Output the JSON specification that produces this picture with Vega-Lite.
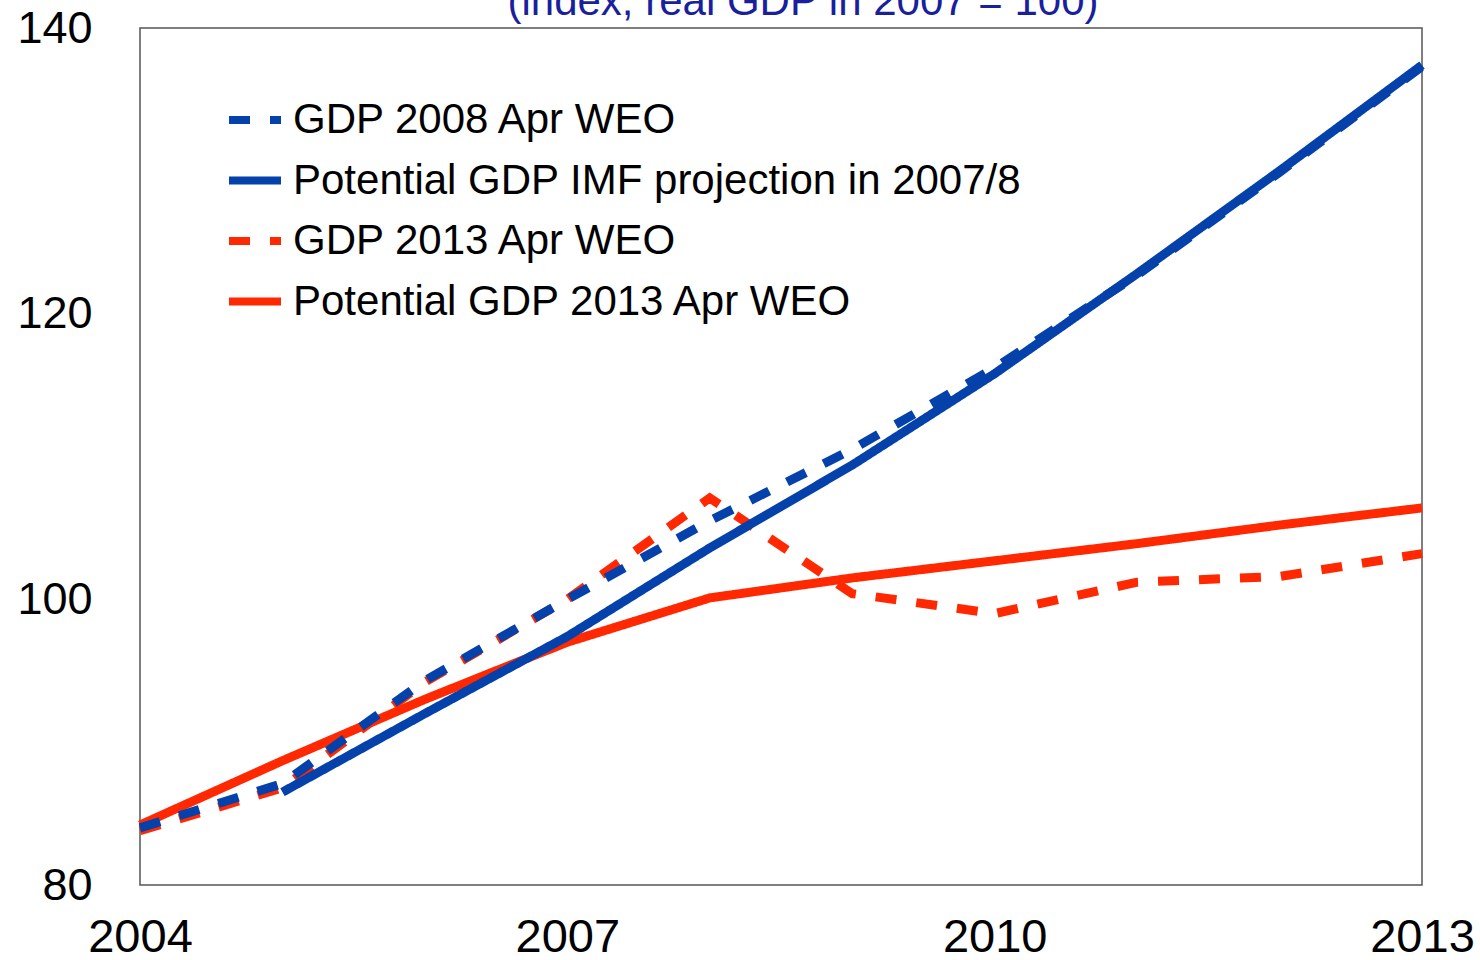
{
  "$schema": "https://vega.github.io/schema/vega-lite/v6.json",
  "width": 1282,
  "height": 857,
  "autosize": {"type": "none"},
  "padding": {"left": 140, "top": 28, "right": 58, "bottom": 75},
  "background": "white",
  "title": {
    "text": "(index, real GDP in 2007 = 100)",
    "font": "Liberation Sans",
    "fontSize": 42,
    "fontWeight": "normal",
    "color": "#1a1f9c",
    "baseline": "alphabetic",
    "offset": 0,
    "dx": 22,
    "dy": 51
  },
  "data": {
    "values": [
      {"series": "Potential GDP 2013 Apr WEO", "year": 2004, "value": 84.2},
      {"series": "Potential GDP 2013 Apr WEO", "year": 2005, "value": 88.7},
      {"series": "Potential GDP 2013 Apr WEO", "year": 2006, "value": 93.0},
      {"series": "Potential GDP 2013 Apr WEO", "year": 2007, "value": 97.0},
      {"series": "Potential GDP 2013 Apr WEO", "year": 2008, "value": 100.1},
      {"series": "Potential GDP 2013 Apr WEO", "year": 2009, "value": 101.5},
      {"series": "Potential GDP 2013 Apr WEO", "year": 2010, "value": 102.7},
      {"series": "Potential GDP 2013 Apr WEO", "year": 2011, "value": 103.9},
      {"series": "Potential GDP 2013 Apr WEO", "year": 2012, "value": 105.2},
      {"series": "Potential GDP 2013 Apr WEO", "year": 2013, "value": 106.4},
      {"series": "GDP 2013 Apr WEO", "year": 2004, "value": 83.8},
      {"series": "GDP 2013 Apr WEO", "year": 2005, "value": 86.8},
      {"series": "GDP 2013 Apr WEO", "year": 2006, "value": 94.2},
      {"series": "GDP 2013 Apr WEO", "year": 2007, "value": 100.0},
      {"series": "GDP 2013 Apr WEO", "year": 2008, "value": 107.1},
      {"series": "GDP 2013 Apr WEO", "year": 2009, "value": 100.4},
      {"series": "GDP 2013 Apr WEO", "year": 2010, "value": 99.0},
      {"series": "GDP 2013 Apr WEO", "year": 2011, "value": 101.2},
      {"series": "GDP 2013 Apr WEO", "year": 2012, "value": 101.6},
      {"series": "GDP 2013 Apr WEO", "year": 2013, "value": 103.2},
      {"series": "Potential GDP IMF projection in 2007/8", "year": 2005, "value": 86.5},
      {"series": "Potential GDP IMF projection in 2007/8", "year": 2006, "value": 92.0},
      {"series": "Potential GDP IMF projection in 2007/8", "year": 2007, "value": 97.4},
      {"series": "Potential GDP IMF projection in 2007/8", "year": 2008, "value": 103.6},
      {"series": "Potential GDP IMF projection in 2007/8", "year": 2009, "value": 109.4},
      {"series": "Potential GDP IMF projection in 2007/8", "year": 2010, "value": 115.8},
      {"series": "Potential GDP IMF projection in 2007/8", "year": 2011, "value": 122.8},
      {"series": "Potential GDP IMF projection in 2007/8", "year": 2012, "value": 130.0},
      {"series": "Potential GDP IMF projection in 2007/8", "year": 2013, "value": 137.4},
      {"series": "GDP 2008 Apr WEO", "year": 2004, "value": 84.0},
      {"series": "GDP 2008 Apr WEO", "year": 2005, "value": 87.1},
      {"series": "GDP 2008 Apr WEO", "year": 2006, "value": 94.3},
      {"series": "GDP 2008 Apr WEO", "year": 2007, "value": 100.0},
      {"series": "GDP 2008 Apr WEO", "year": 2008, "value": 105.5},
      {"series": "GDP 2008 Apr WEO", "year": 2009, "value": 110.5},
      {"series": "GDP 2008 Apr WEO", "year": 2010, "value": 116.2},
      {"series": "GDP 2008 Apr WEO", "year": 2011, "value": 122.7},
      {"series": "GDP 2008 Apr WEO", "year": 2012, "value": 129.9},
      {"series": "GDP 2008 Apr WEO", "year": 2013, "value": 137.3}
    ]
  },
  "mark": {"type": "line", "strokeWidth": 9, "strokeCap": "butt", "strokeJoin": "miter"},
  "encoding": {
    "x": {
      "field": "year",
      "type": "quantitative",
      "scale": {"domain": [2004, 2013], "nice": false, "zero": false},
      "axis": {
        "values": [2004, 2007, 2010, 2013],
        "format": "d",
        "title": null,
        "ticks": false,
        "domain": false,
        "grid": false,
        "labelFont": "Liberation Sans",
        "labelFontSize": 47,
        "labelColor": "black",
        "labelPadding": 29,
        "labelFlush": false,
        "labelOverlap": false
      }
    },
    "y": {
      "field": "value",
      "type": "quantitative",
      "scale": {"domain": [80, 140], "nice": false, "zero": false},
      "axis": {
        "values": [80, 100, 120, 140],
        "title": null,
        "ticks": false,
        "domain": false,
        "grid": false,
        "labelFont": "Liberation Sans",
        "labelFontSize": 45,
        "labelColor": "black",
        "labelPadding": 48,
        "labelFlush": false,
        "labelOverlap": false
      }
    },
    "color": {
      "field": "series",
      "type": "nominal",
      "scale": {
        "domain": ["GDP 2008 Apr WEO", "Potential GDP IMF projection in 2007/8", "GDP 2013 Apr WEO", "Potential GDP 2013 Apr WEO"],
        "range": ["#0441aa", "#0441aa", "#ff2800", "#ff2800"]
      },
      "legend": {
        "title": null,
        "orient": "none",
        "legendX": 85,
        "legendY": 62,
        "symbolType": "stroke",
        "symbolSize": 2704,
        "symbolStrokeWidth": 8,
        "labelFont": "Liberation Sans",
        "labelFontSize": 42,
        "labelColor": "black",
        "labelOffset": 8,
        "labelLimit": 0,
        "rowPadding": 9.5,
        "padding": 0
      }
    },
    "strokeDash": {
      "field": "series",
      "type": "nominal",
      "scale": {
        "domain": ["GDP 2008 Apr WEO", "Potential GDP IMF projection in 2007/8", "GDP 2013 Apr WEO", "Potential GDP 2013 Apr WEO"],
        "range": [[21, 20], [1, 0], [21, 20], [1, 0]]
      },
      "legend": {
        "title": null,
        "orient": "none",
        "legendX": 85,
        "legendY": 62,
        "symbolType": "stroke",
        "symbolSize": 2704,
        "symbolStrokeWidth": 8,
        "labelFont": "Liberation Sans",
        "labelFontSize": 42,
        "labelColor": "black",
        "labelOffset": 8,
        "labelLimit": 0,
        "rowPadding": 9.5,
        "padding": 0
      }
    }
  },
  "config": {
    "view": {"stroke": "#555555", "strokeWidth": 1.5}
  }
}
